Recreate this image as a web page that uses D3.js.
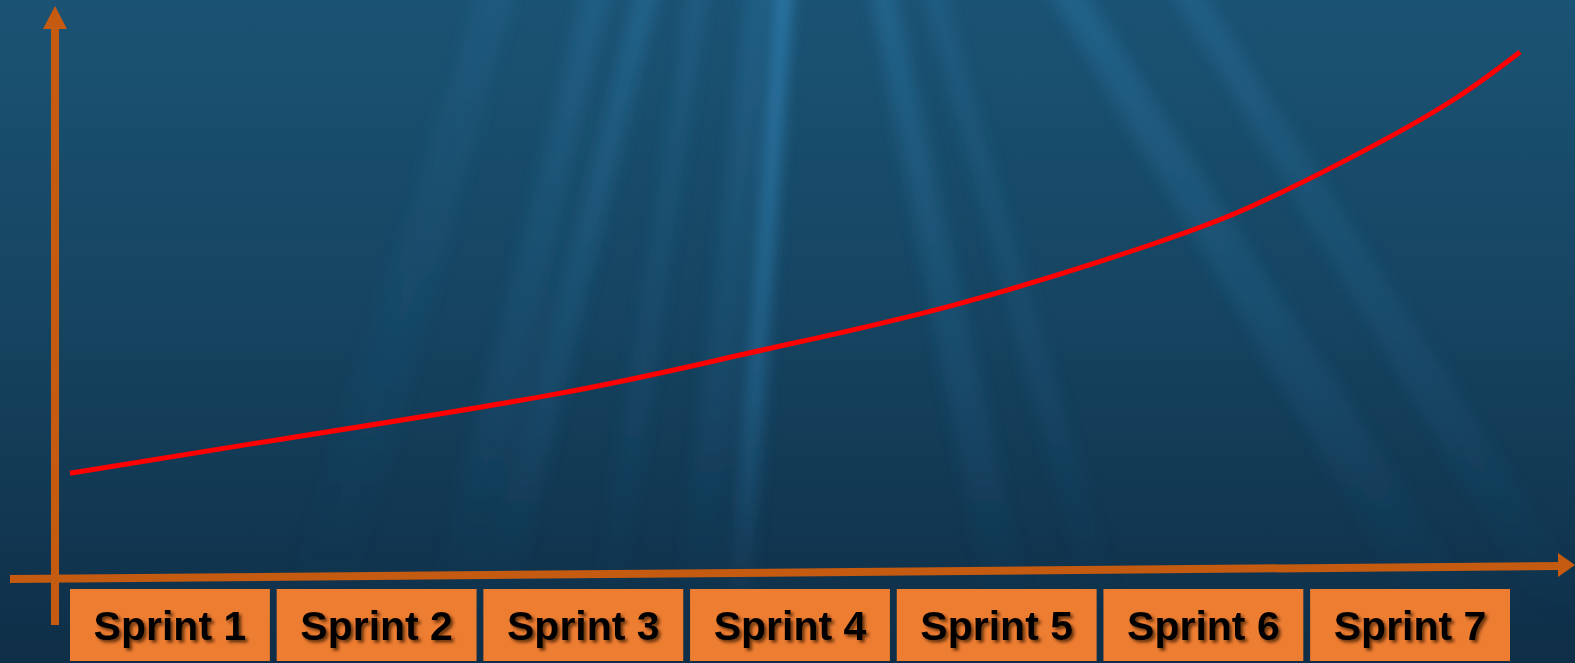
<!DOCTYPE html>
<html>
<head>
<meta charset="utf-8">
<script src="https://cdn.jsdelivr.net/npm/d3@7"></script>
<style>
  html, body { margin: 0; padding: 0; background: #133a56; }
  svg { display: block; }
</style>
</head>
<body>
<div id="chart"></div>
<script>
// sprint labels along the x axis
const sprints = ["Sprint 1", "Sprint 2", "Sprint 3", "Sprint 4", "Sprint 5", "Sprint 6", "Sprint 7"];

// curve: position in sprints (0 = start of Sprint 1) and relative effort (0-100)
const curveT = [0, 0.875, 2.333, 3.306, 4.278, 5.25, 5.736, 6.222, 6.708, 7.049];
const curveV = [18.5, 23.8, 32.7, 40.4, 48.9, 60.0, 66.9, 75.8, 86.0, 95.1];

// light rays in the background (top x, bottom x, width, opacity)
const rays = [
  { x0: 785, x1: 735, w: 22, o: 0.75 },
  { x0: 760, x1: 690, w: 40, o: 0.2 },
  { x0: 650, x1: 480, w: 40, o: 0.25 },
  { x0: 600, x1: 440, w: 50, o: 0.18 },
  { x0: 700, x1: 600, w: 30, o: 0.16 },
  { x0: 880, x1: 1020, w: 45, o: 0.25 },
  { x0: 930, x1: 1120, w: 35, o: 0.17 },
  { x0: 1060, x1: 1480, w: 70, o: 0.22 },
  { x0: 1180, x1: 1600, w: 60, o: 0.18 },
  { x0: 500, x1: 300, w: 70, o: 0.1 },
];

const W = 1575, H = 663;
const axisColor = "#C55A11";
const boxColor = "#ED7D31";

const svg = d3.select("#chart").append("svg")
  .attr("width", W)
  .attr("height", H);

const defs = svg.append("defs");

const bg = defs.append("linearGradient")
  .attr("id", "bg").attr("x1", 0).attr("y1", 0).attr("x2", 0).attr("y2", 1);
bg.append("stop").attr("offset", "0%").attr("stop-color", "#1b5374");
bg.append("stop").attr("offset", "45%").attr("stop-color", "#164562");
bg.append("stop").attr("offset", "100%").attr("stop-color", "#0f2e47");

const rayGrad = defs.append("linearGradient")
  .attr("id", "rayGrad")
  .attr("gradientUnits", "userSpaceOnUse")
  .attr("x1", 0).attr("x2", 0).attr("y1", 0).attr("y2", H);
rayGrad.append("stop").attr("offset", "0%").attr("stop-color", "#3a9ad6").attr("stop-opacity", 1);
rayGrad.append("stop").attr("offset", "60%").attr("stop-color", "#2f82b8").attr("stop-opacity", 0.6);
rayGrad.append("stop").attr("offset", "95%").attr("stop-color", "#2a6f9c").attr("stop-opacity", 0);

defs.append("filter").attr("id", "blur")
  .attr("x", "-20%").attr("y", "-20%").attr("width", "140%").attr("height", "140%")
  .append("feGaussianBlur").attr("stdDeviation", 8);

const shadow = defs.append("filter").attr("id", "shadow")
  .attr("x", "-10%").attr("y", "-20%").attr("width", "130%").attr("height", "150%");
shadow.append("feDropShadow")
  .attr("dx", 2.5).attr("dy", 2.5).attr("stdDeviation", 1.5)
  .attr("flood-color", "#3a1a05").attr("flood-opacity", 0.75);

// background
svg.append("rect").attr("width", W).attr("height", H).attr("fill", "url(#bg)");

const rayG = svg.append("g").attr("filter", "url(#blur)");
rayG.selectAll("path")
  .data(rays)
  .join("path")
  .attr("d", d => `M${d.x0 - d.w * 0.25},-20 L${d.x0 + d.w * 0.25},-20 L${d.x1 + d.w / 2},${H} L${d.x1 - d.w / 2},${H}Z`)
  .attr("fill", "url(#rayGrad)")
  .attr("opacity", d => d.o);

// scales
const band = d3.scaleBand()
  .domain(sprints)
  .range([70, 1510])
  .paddingInner(0.033);

const x = d3.scaleLinear().domain([0, sprints.length]).range([70, 1510]);
const y = d3.scaleLinear().domain([0, 100]).range([575, 25]);

// x axis (slightly tilted) and y axis with arrow heads
const axisG = svg.append("g");
axisG.append("line")
  .attr("x1", 10).attr("y1", 579)
  .attr("x2", 1560).attr("y2", 566)
  .attr("stroke", axisColor).attr("stroke-width", 8);
axisG.append("path")
  .attr("d", "M1575,565 L1558,553 L1558,577 Z")
  .attr("fill", axisColor);

axisG.append("line")
  .attr("x1", 55).attr("y1", 625)
  .attr("x2", 55).attr("y2", 27)
  .attr("stroke", axisColor).attr("stroke-width", 8);
axisG.append("path")
  .attr("d", "M55,6 L43,29 L67,29 Z")
  .attr("fill", axisColor);

// sprint boxes
const boxes = svg.append("g").selectAll("g")
  .data(sprints)
  .join("g")
  .attr("transform", d => `translate(${band(d)},589)`);

boxes.append("rect")
  .attr("width", band.bandwidth())
  .attr("height", 72)
  .attr("fill", boxColor);

boxes.append("text")
  .attr("x", band.bandwidth() / 2)
  .attr("y", 51)
  .attr("text-anchor", "middle")
  .attr("font-family", "'Liberation Sans', Arial, sans-serif")
  .attr("font-weight", "bold")
  .attr("font-size", 41)
  .attr("fill", "#000")
  .attr("filter", "url(#shadow)")
  .text(d => d);

// effort curve
const pts = curveT.map((t, i) => ({ t, v: curveV[i] }));
const line = d3.line()
  .x(d => x(d.t))
  .y(d => y(d.v))
  .curve(d3.curveNatural);

svg.append("path")
  .datum(pts)
  .attr("d", line)
  .attr("fill", "none")
  .attr("stroke", "#FF0000")
  .attr("stroke-width", 5);
</script>
</body>
</html>
